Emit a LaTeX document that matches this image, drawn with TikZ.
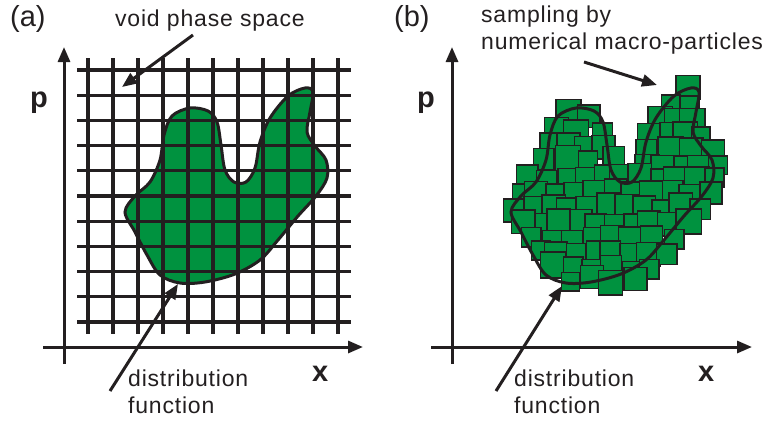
\documentclass[tikz,border=0pt]{standalone}
\usepackage{fontspec}
\setmainfont{Liberation Sans}
\usetikzlibrary{arrows.meta}
\definecolor{blobgreen}{RGB}{0,146,63}
\definecolor{ink}{RGB}{35,31,32}
\newcommand{\blobshape}{plot[smooth cycle, tension=0.55] coordinates {(125,212) (135,196) (150,182) (160,160) (164,135) (172,116) (190,108) (208,111) (217,122) (221,145) (225,170) (234,182) (246,182) (255,168) (260,142) (270,118) (288,96) (305,88) (313,92) (310,112) (307,132) (315,146) (326,160) (327,178) (316,196) (298,216) (278,240) (260,260) (235,274) (205,282) (180,283) (160,275) (147,255) (135,232)}}
\begin{document}
\begin{tikzpicture}[x=1pt,y=-1pt,
  ln/.style={line width=3.1pt, draw=ink},
  axis/.style={line width=3pt, draw=ink, -{Triangle[length=15pt,width=12pt]}},
  arr/.style={line width=3pt, draw=ink, -{Triangle[length=15pt,width=12pt]}},
  lbl/.style={font=\fontsize{23}{27}\selectfont\addfontfeatures{LetterSpace=3.5}, inner sep=0pt, anchor=base west, text=ink},
  tag/.style={font=\fontsize{29}{33}\selectfont, inner sep=0pt, anchor=base west, text=ink},
  axlbl/.style={font=\fontsize{29}{33}\selectfont\bfseries, inner sep=0pt, anchor=base west, text=ink},
  sq/.style={fill=blobgreen, draw=ink, line width=1.5pt},
  blobline/.style={line width=3pt, draw=ink}
]
\useasboundingbox (0,0) rectangle (768,423);

% ---------------- panel (a) ----------------
\fill[blobgreen] \blobshape;
\foreach \k in {0,...,10} {
  \draw[ln] (88+25*\k,58) -- (88+25*\k,334);
  \draw[ln] (77,70+25.2*\k) -- (351,70+25.2*\k);
}
\draw[blobline] \blobshape;
\coordinate (ay0) at (64,364);
\coordinate (ay1) at (64,47);
\coordinate (ax0) at (43,347);
\coordinate (ax1) at (363,347);
\draw[axis] (ay0) -- (ay1);
\draw[axis] (ax0) -- (ax1);
\node[tag] (ta) at (10,27) {(a)};
\node[axlbl] (pa) at (30,107) {p};
\node[axlbl] (xa) at (312,381) {x};
\node[lbl] (void) at (115,27) {void phase space};
\coordinate (voidfrom) at (193,35);
\coordinate (voidto) at (122,87);
\draw[arr] (voidfrom) -- (voidto);
\node[lbl] (da1) at (128,386) {distribution};
\node[lbl] (da2) at (128,413) {function};
\coordinate (dafrom) at (110,391);
\coordinate (dato) at (178,284);
\draw[arr] (dafrom) -- (dato);

% ---------------- panel (b) ----------------
\pgfmathsetseed{5}
\foreach \yy/\xa/\xb in {90/688/688, 105/672/692, 120/658/694, 135/652/702, 150/648/712, 165/648/718, 115/566/590, 130/558/600, 145/552/606, 160/546/612, 178/530/716, 193/520/710, 208/516/700, 223/524/686, 238/532/674, 253/540/664, 268/552/650, 280/570/634} {
  \pgfmathtruncatemacro\n{max(round((\xb-\xa)/19),0)}
  \foreach \i in {0,...,\n} {
    \pgfmathsetmacro\s{22+4*rand}
    \pgfmathsetmacro\cx{\xa+\i*(\xb-\xa)/max(\n,1)+3*rand}
    \pgfmathsetmacro\cy{\yy+3*rand}
    \draw[sq] (\cx-\s/2,\cy-\s/2) rectangle ++(\s,\s);
  }
}
\begin{scope}[xshift=386pt]
\draw[blobline] \blobshape;
\end{scope}
\coordinate (by0) at (452,364);
\coordinate (by1) at (452,47);
\coordinate (bx0) at (431,347);
\coordinate (bx1) at (752,347);
\draw[axis] (by0) -- (by1);
\draw[axis] (bx0) -- (bx1);
\node[tag] (tb) at (394,27) {(b)};
\node[axlbl] (pb) at (417,107) {p};
\node[axlbl] (xb) at (698,381) {x};
\node[lbl] (s1) at (481,22) {sampling by};
\node[lbl] (s2) at (481,49) {numerical macro-particles};
\coordinate (sfrom) at (584,62);
\coordinate (sto) at (657,85);
\draw[arr] (sfrom) -- (sto);
\node[lbl] (db1) at (514,386) {distribution};
\node[lbl] (db2) at (514,413) {function};
\coordinate (dbfrom) at (496,391);
\coordinate (dbto) at (562,286);
\draw[arr] (dbfrom) -- (dbto);
\end{tikzpicture}
\end{document}
